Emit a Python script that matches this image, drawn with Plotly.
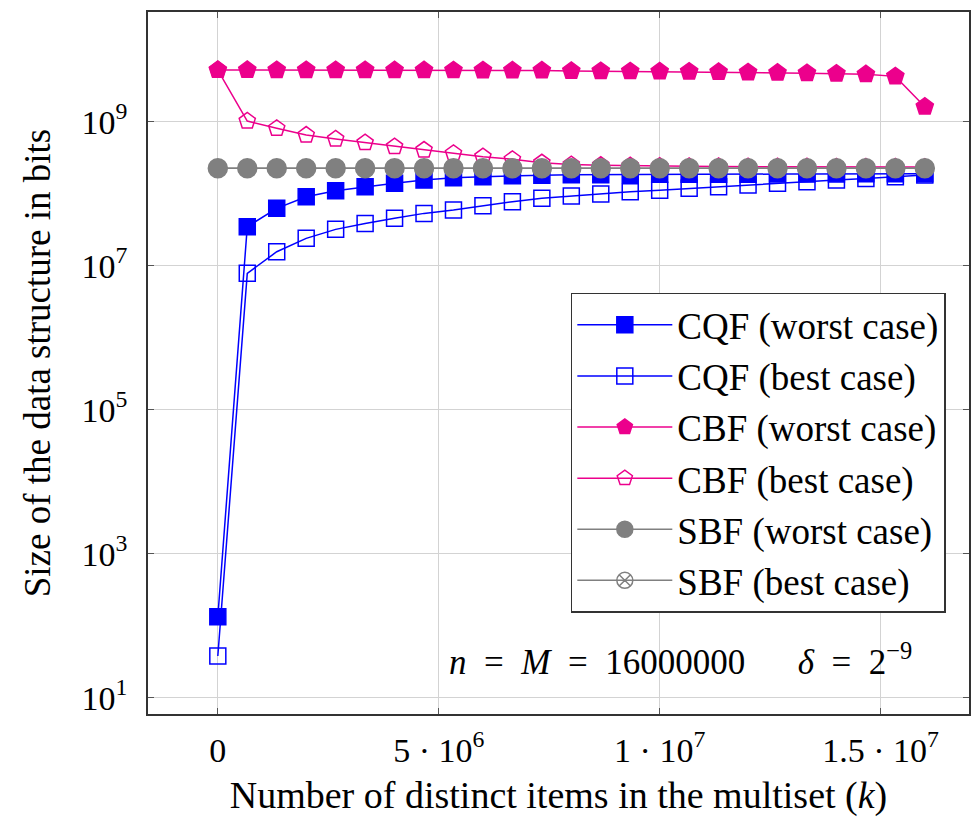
import plotly.graph_objects as go

# x positions: 25 points from 0 to 16,000,000
k_values = [i * 16000000 / 24 for i in range(25)]

# log10 of sizes
cqf_worst_log = [2.125, 7.542, 7.797, 7.958, 8.042, 8.097, 8.144, 8.19, 8.222, 8.236, 8.25, 8.258,
                 8.262, 8.265, 8.267, 8.269, 8.27, 8.271, 8.272, 8.273, 8.274, 8.275, 8.276, 8.277, 8.278]
cqf_best_log = [1.58, 6.894, 7.194, 7.38, 7.505, 7.588, 7.658, 7.727, 7.773, 7.833, 7.889, 7.936,
                7.968, 7.996, 8.028, 8.05, 8.075, 8.097, 8.12, 8.144, 8.167, 8.19, 8.21, 8.236, 8.26]
cbf_worst_log = [9.718, 9.718, 9.717, 9.717, 9.716, 9.716, 9.715, 9.715, 9.714, 9.713, 9.712, 9.711,
                 9.705, 9.702, 9.7, 9.698, 9.695, 9.69, 9.685, 9.68, 9.675, 9.668, 9.66, 9.63, 9.208]
cbf_best_log = [9.718, 9.01, 8.908, 8.815, 8.76, 8.709, 8.653, 8.607, 8.561, 8.514, 8.478, 8.43,
                8.405, 8.395, 8.388, 8.383, 8.38, 8.378, 8.376, 8.375, 8.374, 8.373, 8.372, 8.371, 8.37]
sbf_worst_log = [8.353] * 25
sbf_best_log = [8.353] * 25

y_tick_vals = [10, 1000, 100000, 10000000, 1000000000]
y_tick_text = ["10<sup>1</sup>", "10<sup>3</sup>", "10<sup>5</sup>", "10<sup>7</sup>", "10<sup>9</sup>"]
x_tick_vals = [0, 5000000, 10000000, 15000000]
x_tick_text = ["0", "5 · 10<sup>6</sup>", "1 · 10<sup>7</sup>", "1.5 · 10<sup>7</sup>"]

BLUE = "#0000ff"
PINK = "#ec008c"
GRAY = "#808080"
FONT = "Liberation Serif"

series = [
    ("CQF (worst case)", cqf_worst_log, BLUE, "square", 16),
    ("CQF (best case)", cqf_best_log, BLUE, "square-open", 16),
    ("CBF (worst case)", cbf_worst_log, PINK, "pentagon", 18),
    ("CBF (best case)", cbf_best_log, PINK, "pentagon-open", 17),
    ("SBF (worst case)", sbf_worst_log, GRAY, "circle", 19),
    ("SBF (best case)", sbf_best_log, GRAY, "circle-x-open", 17),
]

fig = go.Figure()
for name, logs, color, symbol, size in series:
    fig.add_trace(go.Scatter(
        x=k_values,
        y=[10 ** v for v in logs],
        mode="lines+markers",
        name=name,
        line=dict(color=color, width=1.5),
        marker=dict(symbol=symbol, size=size, color=color, line=dict(color=color, width=1.5)),
    ))

nb = "\u00a0"
annot_text = (f"<i>n</i>{nb*2}={nb*2}<i>M</i>{nb*2}={nb*2}16000000{nb*6}"
              f"<i>δ</i>{nb*2}={nb*2}2<sup>−9</sup>")

fig.update_layout(
    width=973, height=822,
    margin=dict(l=148, r=2, t=12, b=108),
    plot_bgcolor="white", paper_bgcolor="white",
    font=dict(family=FONT, size=34, color="black"),
    legend=dict(
        x=0.515, y=0.600, xanchor="left", yanchor="top",
        bgcolor="white", bordercolor="#333333", borderwidth=1.5,
        font=dict(family=FONT, size=37),
        itemsizing="trace", itemwidth=95, tracegroupgap=0,
    ),
    xaxis=dict(
        range=[-1580000, 17000000],
        tickvals=x_tick_vals, ticktext=x_tick_text,
        showgrid=True, gridcolor="#d3d3d3", gridwidth=1,
        zeroline=False,
        showline=True, linecolor="#333333", linewidth=1.5, mirror="ticks",
        ticks="inside", ticklen=6, tickcolor="#555555",
        tickfont=dict(family=FONT, size=34),
        ticklabelstandoff=5,
        title=dict(text="Number of distinct items in the multiset (<i>k</i>)",
                   font=dict(family=FONT, size=38), standoff=14),
    ),
    yaxis=dict(
        type="log",
        range=[0.774, 10.524],
        tickvals=y_tick_vals, ticktext=y_tick_text,
        showgrid=True, gridcolor="#d3d3d3", gridwidth=1,
        zeroline=False,
        showline=True, linecolor="#333333", linewidth=1.5, mirror="ticks",
        ticks="inside", ticklen=6, tickcolor="#555555",
        tickfont=dict(family=FONT, size=34),
        ticklabelstandoff=12,
        title=dict(text="Size of the data structure in bits",
                   font=dict(family=FONT, size=37), standoff=20),
    ),
    annotations=[dict(
        x=0.3645, y=0.077, xref="paper", yref="paper", xanchor="left", yanchor="middle",
        text=annot_text,
        showarrow=False, font=dict(family=FONT, size=35, color="black"),
    )],
)

fig.write_html("out.html")
